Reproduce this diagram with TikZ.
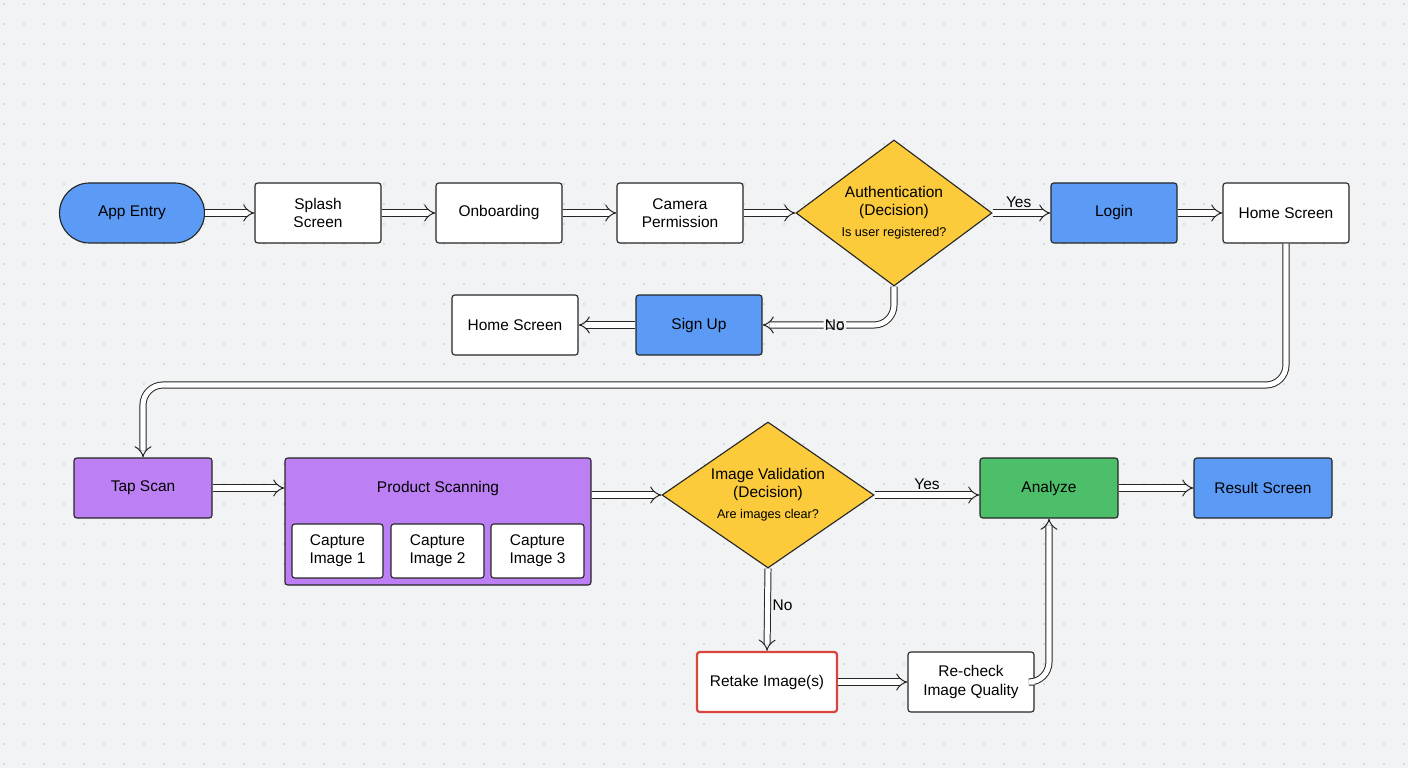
\documentclass[tikz,border=0pt]{standalone}
\usepackage{fontspec}
\setmainfont{Liberation Sans}
\usetikzlibrary{arrows.meta,shapes.geometric}
\definecolor{bgcol}{HTML}{F1F3F4}
\definecolor{dotcol}{HTML}{BFC4C8}
\definecolor{bluebox}{HTML}{5B9BF5}
\definecolor{purplebox}{HTML}{BC80F4}
\definecolor{greenbox}{HTML}{4DBE6A}
\definecolor{yellowbox}{HTML}{FBCB3C}
\definecolor{redline}{HTML}{D9453B}
\tikzset{
  box/.style={draw=black!85,line width=0.8pt,fill=white,rounded corners=2pt,
    minimum width=126*0.025cm,minimum height=60*0.025cm,align=center,
    font=\fontsize{11}{13}\selectfont,inner sep=2pt},
  bluefill/.style={box,fill=bluebox},
  decision/.style={diamond,draw=black!85,line width=0.8pt,fill=yellowbox,
    aspect=1.4,align=center,inner sep=0pt,font=\fontsize{11}{13}\selectfont},
  flow/.style={draw=black!85,line width=0.7pt,double=white,double distance=3.6pt,
    -{Implies},rounded corners=0.5cm},
  lbl/.style={font=\fontsize{11}{13}\selectfont,fill=bgcol,inner sep=1pt}
}
\begin{document}
\begin{tikzpicture}[x=0.025cm,y=-0.025cm]
\useasboundingbox (0,0) rectangle (1408,768);
\fill[bgcol] (0,0) rectangle (1408,768);
% dot grid
\foreach \i in {0,...,70}
  \foreach \j in {0,...,38}
    {\fill[dotcol] (\i*20+4,\j*20+4) circle (0.6pt);}

% top row
\node[bluefill,rounded corners=30*0.025cm,minimum width=145*0.025cm] (entry) at (132,213) {App Entry};
\node[box] (splash) at (318,213) {Splash\\Screen};
\node[box] (onboard) at (499,213) {Onboarding};
\node[box] (camera) at (680,213) {Camera\\Permission};
\node[decision,minimum width=196*0.025cm,minimum height=146*0.025cm] (auth) at (894,213)
  {Authentication\\(Decision)\\[2pt]{\fontsize{9}{11}\selectfont Is user registered?}};
\node[bluefill] (login) at (1114,213) {Login};
\node[box] (home) at (1286,213) {Home Screen};
\node[bluefill] (signup) at (699,325) {Sign Up};
\node[box] (homeb) at (515,325) {Home Screen};

% bottom row
\node[box,fill=purplebox,minimum width=138*0.025cm] (tap) at (143,488) {Tap Scan};
\node[box,fill=purplebox,minimum width=306*0.025cm,minimum height=127*0.025cm] (scan) at (438,521.5) {};
\node[font=\fontsize{11}{13}\selectfont] (scantitle) at (438,488) {Product Scanning};
\node[box,minimum width=91*0.025cm,minimum height=54*0.025cm] (cap1) at (337.5,551) {Capture\\Image 1};
\node[box,minimum width=93*0.025cm,minimum height=54*0.025cm] (cap2) at (437.5,551) {Capture\\Image 2};
\node[box,minimum width=93*0.025cm,minimum height=54*0.025cm] (cap3) at (537.5,551) {Capture\\Image 3};
\node[decision,minimum width=212*0.025cm,minimum height=146*0.025cm] (valid) at (768,495)
  {Image Validation\\(Decision)\\[2pt]{\fontsize{9}{11}\selectfont Are images clear?}};
\node[box,fill=greenbox,minimum width=138*0.025cm] (analyze) at (1049,488) {Analyze};
\node[bluefill,minimum width=138*0.025cm] (result) at (1263,488) {Result Screen};
\node[box,draw=redline,line width=1.6pt,minimum width=140*0.025cm] (retake) at (767,682) {Retake Image(s)};
\node[box] (recheck) at (971,682) {Re-check\\Image Quality};

% connectors
\draw[flow] (entry) -- (splash);
\draw[flow] (splash) -- (onboard);
\draw[flow] (onboard) -- (camera);
\draw[flow] (camera) -- (auth);
\draw[flow] (auth) -- node[above,font=\fontsize{11}{13}\selectfont,pos=0.45] {Yes} (login);
\draw[flow] (login) -- (home);
\draw[flow] (auth.south) -- (894,325) -- node[lbl,pos=0.45] {No} (signup.east);
\draw[flow] (signup) -- (homeb);
\draw[flow] (home.south) -- (1286,385) -- (143,385) -- (tap.north);
\draw[flow] (tap) -- (scan.west |- tap);
\draw[flow] (scan.east |- valid) -- (valid);
\draw[flow] (valid.east) -- node[above,font=\fontsize{11}{13}\selectfont] {Yes} (analyze.west |- valid.east);
\draw[flow] (valid.south) -- node[right,font=\fontsize{11}{13}\selectfont,pos=0.45] {No} (retake.north);
\draw[flow] (retake) -- (recheck);
\draw[flow] (recheck.east) -- (1049,682) -- (analyze.south);
\draw[flow] (analyze) -- (result);
\end{tikzpicture}
\end{document}
